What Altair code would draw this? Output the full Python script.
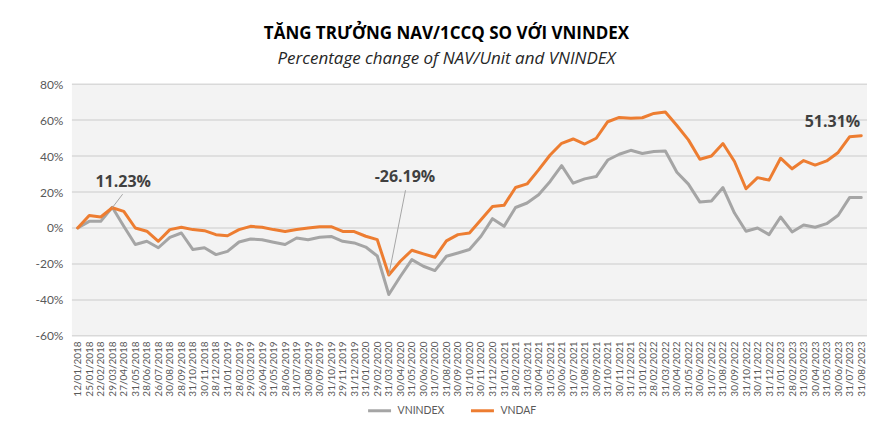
import json
import altair as alt
import pandas as pd

# ---------------- data ----------------
dates = [
    "12/01/2018", "25/01/2018", "22/02/2018", "29/03/2018", "27/04/2018", "31/05/2018",
    "28/06/2018", "26/07/2018", "30/08/2018", "28/09/2018", "31/10/2018", "30/11/2018",
    "28/12/2018", "31/01/2019", "28/02/2019", "29/03/2019", "26/04/2019", "31/05/2019",
    "28/06/2019", "31/07/2019", "30/08/2019", "30/09/2019", "31/10/2019", "29/11/2019",
    "31/12/2019", "31/01/2020", "29/02/2020", "31/03/2020", "30/04/2020", "31/05/2020",
    "30/06/2020", "31/07/2020", "31/08/2020", "30/09/2020", "31/10/2020", "30/11/2020",
    "31/12/2020", "31/01/2021", "28/02/2021", "31/03/2021", "30/04/2021", "31/05/2021",
    "30/06/2021", "31/07/2021", "31/08/2021", "30/09/2021", "31/10/2021", "30/11/2021",
    "31/12/2021", "31/01/2022", "28/02/2022", "31/03/2022", "30/04/2022", "31/05/2022",
    "30/06/2022", "31/07/2022", "31/08/2022", "30/09/2022", "31/10/2022", "30/11/2022",
    "31/12/2022", "31/01/2023", "28/02/2023", "31/03/2023", "30/04/2023", "31/05/2023",
    "30/06/2023", "31/07/2023", "31/08/2023",
]

vnindex = [
    0, 3.7, 3.7, 11.5, 1, -9.2, -7.4, -11, -5.2, -2.8,
    -12, -11, -14.8, -13, -7.8, -6.1, -6.5, -7.9, -9.2, -5.6,
    -6.5, -5.2, -4.7, -7.4, -8.3, -10.6, -15.6, -37, -27, -17.6,
    -21.3, -23.7, -15.7, -13.9, -12, -4.6, 5.2, 0.9, 11.4, 13.9,
    18.5, 25.9, 34.7, 24.9, 27.3, 28.6, 37.8, 41, 43.2, 41.4,
    42.5, 42.8, 31, 24.4, 14.4, 15, 22.5, 8.3, -1.8, 0,
    -3.7, 6.1, -2.2, 1.7, 0.4, 2.4, 7.1, 17, 17,
]

vndaf = [
    0, 7, 6.1, 11.23, 9.2, 0, -1.8, -7.4, -0.9, 0.4,
    -0.9, -1.5, -3.7, -4.3, -0.9, 0.9, 0.4, -0.9, -1.9, -0.9,
    0, 0.7, 0.7, -1.9, -2, -4.6, -6.5, -26.19, -18.5, -12.4,
    -14.4, -16.3, -7.2, -3.7, -2.8, 4.6, 12, 12.6, 22.5, 24.5,
    32.3, 40.6, 47.1, 49.5, 46.7, 49.9, 59.1, 61.5, 61, 61.3,
    63.7, 64.5, 57, 49, 38.2, 40, 47, 37, 21.8, 28,
    26.6, 38.8, 32.9, 37.5, 35, 37.3, 42, 50.8, 51.31,
]

series_names = ["VNINDEX", "VNDAF"]
series_colors = ["#A5A5A5", "#ED7D31"]
grid_values = [-60, -40, -20, 0, 20, 40, 60, 80]

ann_text = ["11.23%", "-26.19%", "51.31%"]
ann_x = [3.95, 28.4, 65.5]
ann_y = [25.5, 28.3, 58.7]

leader_x = [3, 27]
leader_y = [11.23, -26.19]
leader_x2 = [3.9, 28.45]
leader_y2 = [18.8, 21.0]

# ---------------- tables ----------------
n = len(dates)
idx = list(range(n))
lines_df = pd.DataFrame({
    "idx": idx * 2,
    "value": vnindex + vndaf,
    "series": [series_names[0]] * n + [series_names[1]] * n,
})
grid_df = pd.DataFrame({"v": grid_values})
ann_df = pd.DataFrame({"t": ann_text, "ax": ann_x, "ay": ann_y})
lead_df = pd.DataFrame({"x": leader_x, "y": leader_y, "x2": leader_x2, "y2": leader_y2})

W, H = 796, 252

label_expr = json.dumps(dates) + "[datum.value]"

x_scale = alt.Scale(domain=[-0.5, n - 0.5], nice=False, zero=False)
y_scale = alt.Scale(domain=[-60, 80], nice=False, zero=False)

x_axis = alt.Axis(
    values=idx, labelExpr=label_expr, labelAngle=270, labelFontSize=10,
    labelColor="#595959", labelFont="Lato", ticks=False, domain=False, grid=False,
    labelPadding=5, labelOverlap=False, labelBound=False, labelFlush=False, title=None,
)
y_axis = alt.Axis(
    values=grid_values, labelExpr="datum.value + '%'", ticks=False, domain=False,
    grid=False, labelFontSize=12, labelColor="#595959", labelFont="Lato",
    labelPadding=9, minExtent=50, maxExtent=50, title=None,
)

bg = alt.Chart(pd.DataFrame({"a": [0]})).mark_rect(fill="#f3f3f3").encode(
    x=alt.value(0), x2=alt.value("width"), y=alt.value(0), y2=alt.value("height")
)

grid = alt.Chart(grid_df).mark_rule(color="#d9d9d9", strokeWidth=1.5).encode(
    y=alt.Y("v:Q", scale=y_scale, axis=y_axis)
)

lines = alt.Chart(lines_df).mark_line(strokeWidth=3, strokeCap="round", strokeJoin="round").encode(
    x=alt.X("idx:Q", scale=x_scale, axis=x_axis),
    y=alt.Y("value:Q", scale=y_scale, axis=y_axis),
    color=alt.Color(
        "series:N",
        scale=alt.Scale(domain=series_names, range=series_colors),
        legend=alt.Legend(
            orient="none", legendX=295, legendY=314, direction="horizontal", title=None,
            symbolType="stroke", symbolStrokeWidth=3, symbolSize=529,
            labelFont="Lato", labelFontSize=10.5, labelColor="#595959",
            columnPadding=20, labelOffset=5,
        ),
        sort=series_names,
    ),
    order="idx:Q",
)

leaders = alt.Chart(lead_df).mark_rule(color="#a6a6a6", strokeWidth=1).encode(
    x=alt.X("x:Q", scale=x_scale, axis=x_axis),
    y=alt.Y("y:Q", scale=y_scale, axis=y_axis),
    x2="x2:Q",
    y2="y2:Q",
)

labels = alt.Chart(ann_df).mark_text(
    font="Open Sans", fontSize=16, fontWeight="bold", color="#404040", baseline="middle"
).encode(
    x=alt.X("ax:Q", scale=x_scale, axis=x_axis),
    y=alt.Y("ay:Q", scale=y_scale, axis=y_axis),
    text="t:N",
)

chart = alt.layer(bg, grid, lines, leaders, labels).properties(
    width=W,
    height=H,
    padding={"left": 14, "top": 17, "right": 0, "bottom": 0},
    background="#ffffff",
    title=alt.TitleParams(
        text="TĂNG TRƯỞNG NAV/1CCQ SO VỚI VNINDEX",
        subtitle="Percentage change of NAV/Unit and VNINDEX",
        font="Open Sans", fontSize=17, fontWeight="bold", color="#000000",
        subtitleFont="Open Sans", subtitleFontSize=17, subtitleFontStyle="italic",
        subtitleColor="#262626", anchor="middle", frame="group", dx=-23,
        offset=10, subtitlePadding=8,
    ),
).configure_view(stroke=None)

chart.save("out.html", embed_options={"renderer": "svg", "actions": False})
